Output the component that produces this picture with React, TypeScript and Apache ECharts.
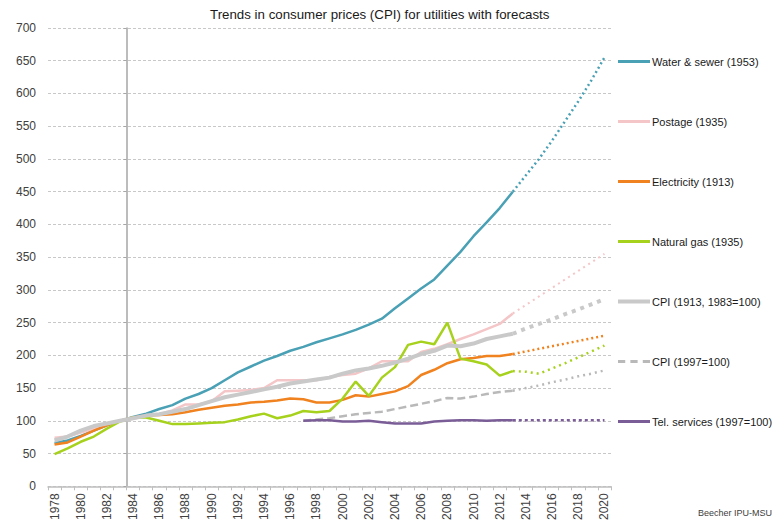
import React, { useEffect, useRef } from "react";
import * as echarts from "echarts";

const years = [
  "1978", "1979", "1980", "1981", "1982", "1983", "1984", "1985", "1986", "1987",
  "1988", "1989", "1990", "1991", "1992", "1993", "1994", "1995", "1996", "1997",
  "1998", "1999", "2000", "2001", "2002", "2003", "2004", "2005", "2006", "2007",
  "2008", "2009", "2010", "2011", "2012", "2013", "2014", "2015", "2016", "2017",
  "2018", "2019", "2020",
];

// actual values 1978-2013
const waterActual = [66, 70, 77, 85, 93, 100, 106, 111, 118, 124, 134, 141, 150, 162, 174, 183, 192, 199, 207, 213, 220, 226, 232, 239, 247, 256, 272, 287, 302, 316, 337, 358, 382, 403, 425, 450];
const postageActual = [74, 76, 82, 88, 96, 100, 103, 108, 110, 116, 125, 125, 130, 145, 146, 147, 150, 162, 162, 162, 162, 167, 170, 172, 180, 191, 191, 191, 205, 210, 217, 225, 232, 240, 248, 264];
const electricityActual = [64, 67, 76, 85, 93, 100, 105, 108, 109, 110, 113, 117, 120, 123, 125, 128, 129, 131, 134, 133, 128, 128, 132, 139, 137, 141, 145, 153, 170, 178, 188, 194, 196, 199, 199, 202];
const gasActual = [49, 58, 68, 76, 88, 99, 105, 105, 100, 95, 95, 96, 97, 98, 102, 107, 111, 104, 108, 115, 113, 115, 134, 160, 138, 166, 182, 216, 221, 217, 250, 195, 191, 186, 169, 176];
const cpi1913Actual = [70, 76, 85, 92, 96, 100, 104, 108, 110, 114, 118, 124, 130, 136, 140, 144, 148, 152, 157, 160, 163, 166, 172, 177, 180, 184, 189, 195, 202, 207, 215, 214, 218, 225, 229, 233];
// actual values 1997-2013
const cpi1997Actual = [100, 102, 104, 107, 110, 112, 114, 118, 122, 126, 130, 135, 134, 137, 141, 144, 146];
const telActual = [100, 101, 101, 99, 99, 100, 98, 96, 96, 96, 99, 100, 101, 101, 100, 101, 101];

// forecasts 2013-2020
const waterForecast = [450, 475, 500, 528, 558, 588, 620, 655];
const postageForecast = [264, 277, 290, 303, 316, 329, 342, 355];
const electricityForecast = [202, 206, 210, 214, 218, 222, 226, 230];
const gasForecast = [176, 175, 172, 180, 188, 197, 206, 215];
const cpi1913Forecast = [233, 241, 248, 255, 263, 270, 278, 286];
const cpi1997Forecast = [146, 150, 154, 159, 163, 168, 172, 177];
const telForecast = [101, 101, 101, 101, 101, 101, 101, 101];

const yTicks = { min: 0, max: 700, interval: 50 };

const FONT = "'Liberation Sans', Arial, sans-serif";

const ICON_SOLID = "path://M0,0L32,0L32,3L0,3Z";
const ICON_THICK = "path://M0,0L32,0L32,4L0,4Z";
const ICON_DASH = "path://M0,0L7,0L7,3L0,3Z M12,0L19,0L19,3L12,3Z M24,0L31,0L31,3L24,3Z";

function pad(startYear: string, vals: number[]) {
  const start = years.indexOf(startYear);
  return years.map((_, i) => {
    const k = i - start;
    return k >= 0 && k < vals.length ? vals[k] : null;
  });
}

export default function App() {
  const ref = useRef<HTMLDivElement>(null);
  useEffect(() => {
    document.body.style.margin = "0";
    if (!ref.current) return;
    const chart = echarts.init(ref.current, null, { renderer: "svg" });

    const defs = [
      { name: "Water & sewer (1953)", color: "#4aa0b4", width: 2.5, type: "solid" as any, start: "1978", a: waterActual, f: waterForecast, fDash: [2, 3], fWidth: 2.5, icon: ICON_SOLID },
      { name: "Postage (1935)", color: "#f4c6c8", width: 2.5, type: "solid" as any, start: "1978", a: postageActual, f: postageForecast, fDash: [2, 4], fWidth: 2, icon: ICON_SOLID },
      { name: "Electricity (1913)", color: "#f0821f", width: 2.5, type: "solid" as any, start: "1978", a: electricityActual, f: electricityForecast, fDash: [2, 3], fWidth: 2.5, icon: ICON_SOLID },
      { name: "Natural gas (1935)", color: "#a6d11c", width: 2.5, type: "solid" as any, start: "1978", a: gasActual, f: gasForecast, fDash: [2, 4], fWidth: 2.5, icon: ICON_SOLID },
      { name: "CPI (1913, 1983=100)", color: "#c9c9c9", width: 4, type: "solid" as any, start: "1978", a: cpi1913Actual, f: cpi1913Forecast, fDash: [4, 5], fWidth: 4, icon: ICON_THICK },
      { name: "CPI (1997=100)", color: "#b9b9b9", width: 2.5, type: [8, 4] as any, start: "1997", a: cpi1997Actual, f: cpi1997Forecast, fDash: [2, 4], fWidth: 2.5, icon: ICON_DASH },
      { name: "Tel. services (1997=100)", color: "#7a5d97", width: 2.5, type: "solid" as any, start: "1997", a: telActual, f: telForecast, fDash: [3, 3], fWidth: 2.5, icon: ICON_SOLID },
    ];

    const series: any[] = [];
    defs.forEach((d) => {
      series.push({
        name: d.name,
        type: "line",
        data: pad(d.start, d.a),
        symbol: "none",
        showSymbol: false,
        lineStyle: { color: d.color, width: d.width, type: d.type },
        itemStyle: { color: d.color },
        z: 3,
      });
    });
    defs.forEach((d) => {
      series.push({
        name: d.name,
        type: "line",
        data: pad("2013", d.f),
        symbol: "none",
        showSymbol: false,
        lineStyle: { color: d.color, width: d.fWidth, type: d.fDash },
        itemStyle: { color: d.color },
        z: 3,
      });
    });

    chart.setOption({
      animation: false,
      textStyle: { fontFamily: FONT },
      title: {
        text: "Trends in consumer prices (CPI) for utilities with forecasts",
        left: 210,
        top: 8,
        padding: 0,
        textStyle: { fontSize: 13.3, fontWeight: "normal", color: "#1a1a1a", fontFamily: FONT },
      },
      legend: {
        orient: "vertical",
        left: 618,
        top: 56,
        padding: 0,
        itemWidth: 32,
        itemHeight: 14,
        itemGap: 49,
        data: defs.map((d) => ({
          name: d.name,
          icon: d.icon,
          itemStyle: { color: d.color, borderWidth: 0 },
        })),
        textStyle: { fontSize: 11, color: "#1a1a1a", fontFamily: FONT, padding: [0, 0, 0, -3] },
        selectedMode: false,
      },
      grid: { left: 48, right: 165, top: 28, bottom: 35, containLabel: false },
      xAxis: {
        type: "category",
        data: years,
        boundaryGap: true,
        axisLine: { show: true, lineStyle: { color: "#bfbfbf", width: 1.5 } },
        axisTick: { show: true, interval: 0, length: 4, lineStyle: { color: "#bfbfbf" } },
        axisLabel: { interval: 1, rotate: 90, fontSize: 12, color: "#404040", margin: 7, fontFamily: FONT },
        splitLine: { show: false },
      },
      yAxis: [
        {
          type: "value",
          position: "left",
          ...yTicks,
          axisLine: { show: false },
          axisTick: { show: false },
          axisLabel: { fontSize: 12, color: "#404040", margin: 12, fontFamily: FONT },
          splitLine: { show: true, lineStyle: { color: "#c8c8c8", type: [3, 2], width: 1 } },
        },
        {
          type: "value",
          position: "left",
          offset: -78.56,
          ...yTicks,
          axisLine: { show: true, lineStyle: { color: "#a6a6a6", width: 1.5 } },
          axisTick: { show: true, length: 3, lineStyle: { color: "#a6a6a6" } },
          axisLabel: { show: false },
          splitLine: { show: false },
        },
      ],
      graphic: [
        {
          type: "text",
          right: 4,
          top: 508,
          style: { text: "Beecher IPU-MSU", fontSize: 9, fill: "#404040", fontFamily: FONT },
        },
      ],
      series,
    });
    return () => chart.dispose();
  }, []);
  return <div ref={ref} style={{ width: 776, height: 523 }} />;
}
